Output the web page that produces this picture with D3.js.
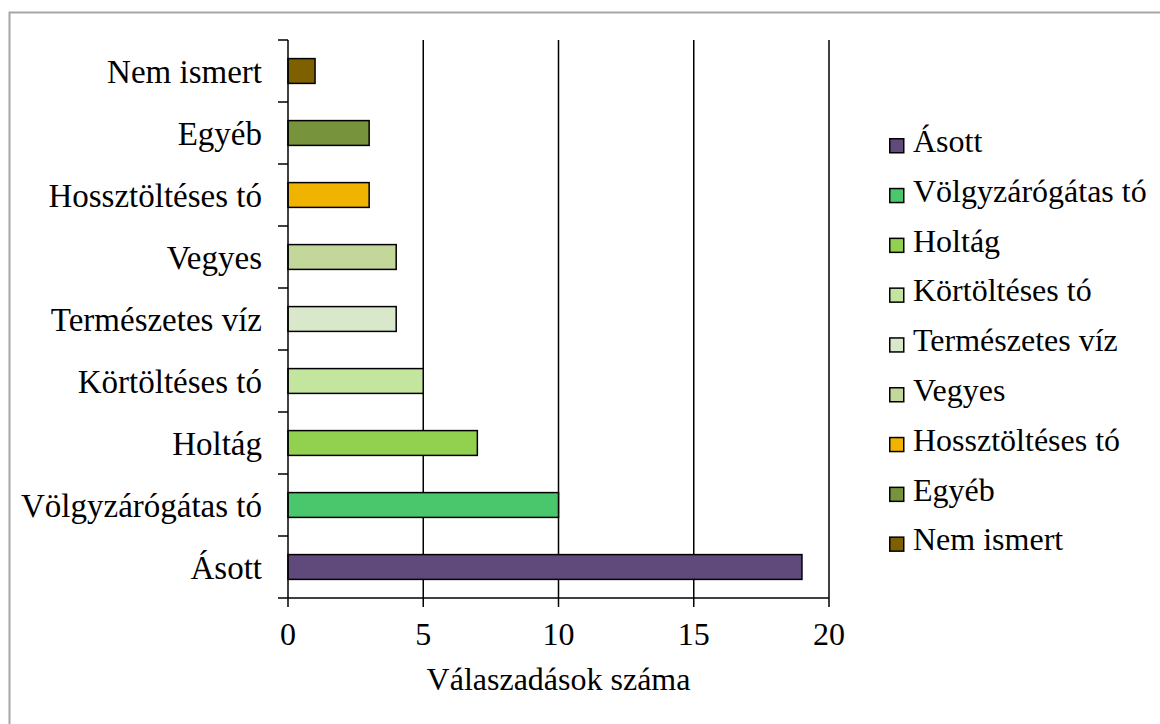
<!DOCTYPE html>
<html>
<head>
<meta charset="utf-8">
<script src="https://cdn.jsdelivr.net/npm/d3@7"></script>
<style>
  body { margin: 0; background: #fff; }
</style>
</head>
<body>
<script>
// Chart data.
const categories = ["Ásott", "Völgyzárógátas tó", "Holtág", "Körtöltéses tó", "Természetes víz", "Vegyes", "Hossztöltéses tó", "Egyéb", "Nem ismert"];
const values = [19, 10, 7, 5, 4, 4, 3, 3, 1];
const colors = ["#604a7b", "#4ac66c", "#92d050", "#c3e59e", "#d9e8cb", "#c4d79b", "#f0b400", "#77933c", "#7f6000"];
const xTicks = [0, 5, 10, 15, 20];
const xTitle = "Válaszadások száma";

const width = 1160;
const height = 724;
const plot = { left: 288, right: 829, top: 40, bottom: 598 };

const svg = d3.select("body").append("svg")
  .attr("width", width)
  .attr("height", height)
  .attr("font-family", "'Liberation Serif', 'Times New Roman', serif");

// Outer frame.
svg.append("rect")
  .attr("x", 9.5).attr("y", 12.5)
  .attr("width", width).attr("height", height)
  .attr("fill", "none")
  .attr("stroke", "#a6a6a6")
  .attr("stroke-width", 2);

const x = d3.scaleLinear().domain([0, 20]).range([plot.left, plot.right]);
const y = d3.scaleBand()
  .domain(categories.slice().reverse())
  .range([plot.top, plot.bottom])
  .paddingInner(0.6)
  .paddingOuter(0.3);

// Vertical gridlines.
svg.append("g")
  .selectAll("line")
  .data(xTicks.filter((d) => d > 0))
  .join("line")
  .attr("x1", (d) => x(d)).attr("x2", (d) => x(d))
  .attr("y1", plot.top).attr("y2", plot.bottom)
  .attr("stroke", "#000")
  .attr("stroke-width", 1.5);

// Bars.
svg.append("g")
  .selectAll("rect")
  .data(categories)
  .join("rect")
  .attr("x", x(0))
  .attr("y", (d) => y(d))
  .attr("width", (d, i) => x(values[i]) - x(0))
  .attr("height", y.bandwidth())
  .attr("fill", (d, i) => colors[i])
  .attr("stroke", "#000")
  .attr("stroke-width", 1.5);

// Y axis: line, ticks at band boundaries and labels.
const bandStep = (plot.bottom - plot.top) / categories.length;
const gy = svg.append("g");
gy.append("line")
  .attr("x1", plot.left).attr("x2", plot.left)
  .attr("y1", plot.top).attr("y2", plot.bottom)
  .attr("stroke", "#000").attr("stroke-width", 1.5);
gy.selectAll(".ytick")
  .data(d3.range(categories.length + 1))
  .join("line")
  .attr("class", "ytick")
  .attr("x1", plot.left - 10).attr("x2", plot.left)
  .attr("y1", (i) => plot.top + i * bandStep)
  .attr("y2", (i) => plot.top + i * bandStep)
  .attr("stroke", "#000").attr("stroke-width", 1.5);
gy.selectAll("text")
  .data(categories)
  .join("text")
  .attr("x", 262)
  .attr("y", (d) => y(d) + y.bandwidth() / 2)
  .attr("dy", "0.35em")
  .attr("text-anchor", "end")
  .attr("font-size", 33)
  .text((d) => d);

// X axis.
const gx = svg.append("g");
gx.append("line")
  .attr("x1", plot.left).attr("x2", plot.right)
  .attr("y1", plot.bottom).attr("y2", plot.bottom)
  .attr("stroke", "#000").attr("stroke-width", 1.5);
gx.selectAll(".xtick")
  .data(xTicks)
  .join("line")
  .attr("class", "xtick")
  .attr("x1", (d) => x(d)).attr("x2", (d) => x(d))
  .attr("y1", plot.bottom).attr("y2", plot.bottom + 9)
  .attr("stroke", "#000").attr("stroke-width", 1.5);
gx.selectAll("text")
  .data(xTicks)
  .join("text")
  .attr("x", (d) => x(d))
  .attr("y", 645)
  .attr("text-anchor", "middle")
  .attr("font-size", 32)
  .text((d) => d);

svg.append("text")
  .attr("x", (plot.left + plot.right) / 2)
  .attr("y", 690)
  .attr("text-anchor", "middle")
  .attr("font-size", 32)
  .text(xTitle);

// Legend.
const legend = svg.append("g").attr("transform", "translate(889,138)");
const rowH = 49.8;
const item = legend.selectAll("g")
  .data(categories)
  .join("g")
  .attr("transform", (d, i) => `translate(0,${i * rowH})`);
item.append("rect")
  .attr("x", 0.75).attr("y", 0.75)
  .attr("width", 14).attr("height", 14)
  .attr("fill", (d, i) => colors[i])
  .attr("stroke", "#000")
  .attr("stroke-width", 1.5);
item.append("text")
  .attr("x", 24)
  .attr("y", 14)
  .attr("font-size", 32)
  .text((d) => d);
</script>
</body>
</html>
